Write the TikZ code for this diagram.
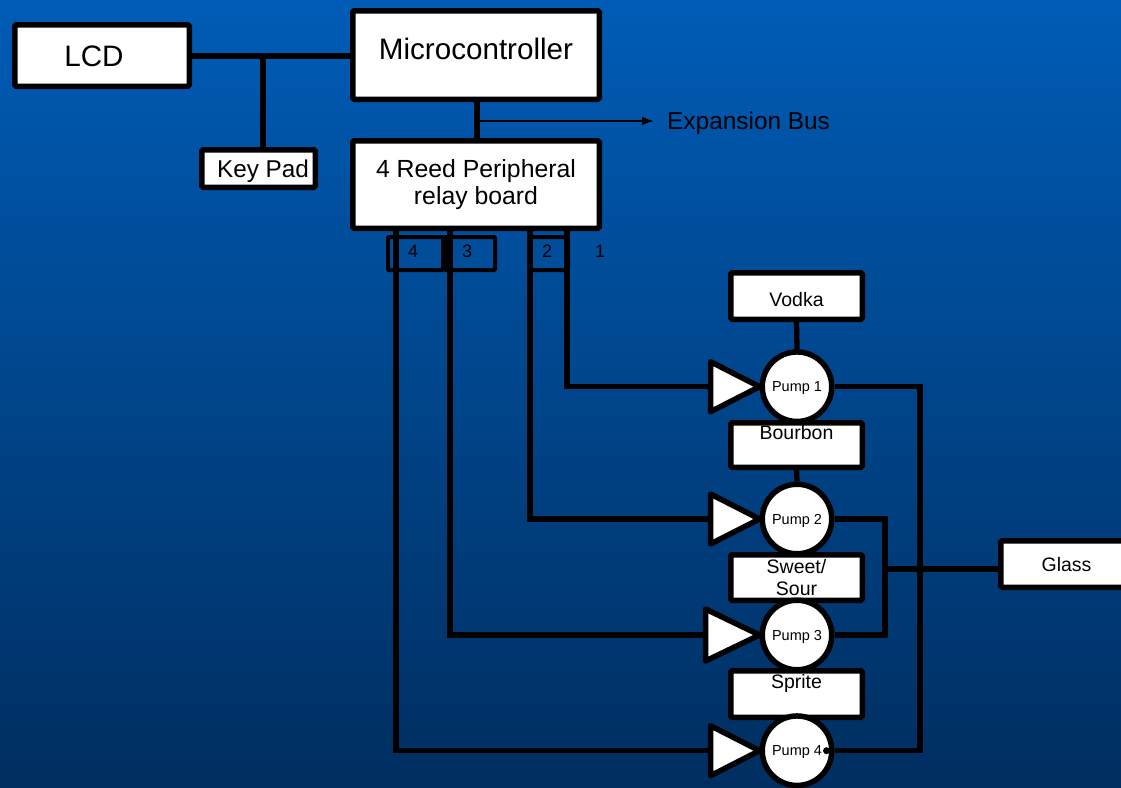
\documentclass[tikz,border=0pt]{standalone}
\usepackage{fontspec}
\setmainfont{Liberation Sans}
\usetikzlibrary{arrows.meta,calc,backgrounds}
\definecolor{bgtop}{RGB}{0,92,182}
\definecolor{bgbot}{RGB}{0,46,96}

\begin{document}
\begin{tikzpicture}[x=1pt,y=-1pt,
  box/.style={draw=black, fill=white, line width=5.5pt, inner sep=0pt,
    rounded corners=1.5pt, align=center},
  pump/.style={circle, draw=black, fill=white, line width=5.5pt, inner sep=0pt,
    minimum size=69.5pt, font=\fontsize{14.5pt}{16pt}\selectfont, text height=10.4pt, text depth=0pt},
  tri/.style={draw=black, fill=white, line width=5.5pt, line join=round},
  slot/.style={draw=black, line width=4pt, inner sep=0pt, rounded corners=1pt},
  wire/.style={draw=black, line width=5.3pt},
  busline/.style={draw=black, line width=2pt},
  bigtxt/.style={font=\fontsize{29.6pt}{33pt}\selectfont, text height=21.2pt, text depth=0pt},
  midtxt/.style={font=\fontsize{24.8pt}{27pt}\selectfont},
  kptxt/.style={font=\fontsize{24.3pt}{27pt}\selectfont, text height=17.4pt, text depth=0pt},
  smalltxt/.style={font=\fontsize{19.5pt}{22pt}\selectfont, text height=14pt, text depth=0pt},
  twotxt/.style={font=\fontsize{19.5pt}{21.5pt}\selectfont},
  digit/.style={font=\fontsize{18pt}{20pt}\selectfont, inner sep=0pt, text height=12.9pt, text depth=0pt},
]
\useasboundingbox (0,0) rectangle (1121,787);
\clip (0,0) rectangle (1121,787);

% control section
\node[box, bigtxt, minimum width=174.5pt, minimum height=61.5pt] (lcd) at (102,55.5) {LCD\hspace*{16pt}};
\node[box, bigtxt, text depth=12pt, minimum width=246.5pt, minimum height=88.5pt] (mc) at (476,55) {Microcontroller};
\node[box, kptxt, minimum width=113.5pt, minimum height=37.5pt] (kp) at (258.5,168.5) {\hspace*{9pt}Key Pad};
\node[box, midtxt, minimum width=246.5pt, minimum height=87.5pt] (relay) at (476,184.5) {4 Reed Peripheral\\relay board};
\node[bigtxt, font=\fontsize{24.4pt}{27pt}\selectfont, text height=17.5pt, anchor=west, inner sep=0pt] (exp) at (667,121) {Expansion Bus};

% relay outputs
\node[slot, minimum width=55pt, minimum height=33pt] (c4) at (415.5,253.5) {};
\node[slot, minimum width=50pt, minimum height=33pt] (c3) at (470,253.5) {};
\node[slot, minimum width=39pt, minimum height=33pt] (c2) at (548.5,253.5) {};
\node[digit] (n4) at (413,251) {4};
\node[digit] (n3) at (467,251) {3};
\node[digit] (n2) at (547,251) {2};
\node[digit] (n1) at (600,251) {1};

% ingredients
\node[box, smalltxt, text height=21pt, minimum width=131.5pt, minimum height=46.5pt] (vodka) at (796.5,296) {Vodka};
\node[box, smalltxt, text depth=25pt, minimum width=131.5pt, minimum height=44.5pt] (bourbon) at (796.5,445) {Bourbon};
\node[box, twotxt, minimum width=131.5pt, minimum height=45.5pt] (sweet) at (796.5,577.5) {Sweet/\\Sour};
\node[box, smalltxt, text depth=25pt, minimum width=131.5pt, minimum height=46.5pt] (sprite) at (796.5,694) {Sprite};
\node[box, smalltxt, minimum width=131.5pt, minimum height=46.5pt] (glass) at (1066.5,564) {Glass};

% pumps
\node[pump] (p1) at (797,386.7) {Pump 1};
\node[pump] (p2) at (797,519) {Pump 2};
\node[pump] (p3) at (797,635) {Pump 3};
\node[pump] (p4) at (797,750.7) {Pump 4};

% pump drivers
\draw[tri] (p1.west) -- ++(-49,-25) -- ++(0,50) -- cycle;
\draw[tri] (p2.west) -- ++(-49,-25) -- ++(0,50) -- cycle;
\draw[tri] (p3.west) -- ++(-54,-26) -- ++(0,52) -- cycle;
\draw[tri] (p4.west) -- ++(-49,-25) -- ++(0,50) -- cycle;
\coordinate (t1) at ($(p1.west)+(-49,0)$);
\coordinate (t2) at ($(p2.west)+(-49,0)$);
\coordinate (t3) at ($(p3.west)+(-54,0)$);
\coordinate (t4) at ($(p4.west)+(-49,0)$);

% wire start points under the relay board
\coordinate (w4) at (396,227);
\coordinate (w3) at (450,227);
\coordinate (w2) at (530,227);
\coordinate (w1) at (567,227);
\coordinate (kb) at (263,56);
\coordinate (mix) at (920,569);
\coordinate (mix2) at (885,569);

\fill ($(p4.east)+(-8,0)$) circle (3.5);

\begin{pgfonlayer}{background}
  \shade[top color=bgtop, bottom color=bgbot] (0,0) rectangle (1121,787);
  % bus between LCD, key pad and controller
  \draw[wire] (lcd.east |- kb) -- (mc.west |- kb);
  \draw[wire] (kb) -- (kb |- kp.north);
  \draw[wire, line cap=round] ($(mc.south)+(1,-7)$) -- ($(relay.north)+(1,0)$);
  \draw[busline, -{Latex[length=12pt,width=9pt]}, shorten >=13pt] ($(mc.south |- exp.west)+(1,0)$) -- (exp.west);
  % relay outputs to the pump drivers
  \draw[wire] (w1) |- (t1);
  \draw[wire] (w2) |- (t2);
  \draw[wire] (w3) |- (t3);
  \draw[wire] (w4) |- (t4);
  % ingredient feeds
  \draw[wire] (vodka.south) -- (p1.north);
  \draw[wire] (bourbon.south) -- (p2.north);
  \draw[wire] (sweet.south) -- (p3.north);
  \draw[wire] (sprite.south) -- (p4.north);
  % pump outlets to the glass
  \draw[wire] (p1.east) -| (mix) |- (p4.east);
  \draw[wire] (p2.east) -| (mix2) |- (p3.east);
  \draw[wire] (mix2) -- (mix2 -| glass.west);
\end{pgfonlayer}
\end{tikzpicture}
\end{document}
